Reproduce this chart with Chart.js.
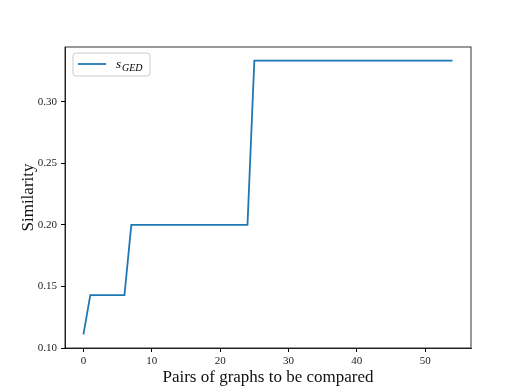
<!DOCTYPE html>
<html>
<head>
    <meta charset="UTF-8">
    <script src="https://cdn.jsdelivr.net/npm/chart.js"></script>
    <style>
        body { margin: 0; background: #fff; }
    </style>
</head>
<body>
    <canvas id="simChart" width="523" height="392"></canvas>
    <script>
        // break points of the step curve (pair index, similarity)
        const pairIdx = [0, 1, 6, 7, 24, 25, 54];
        const similarity = [0.1111, 0.1429, 0.1429, 0.2, 0.2, 0.3333, 0.3333];
        const xTicks = [0, 10, 20, 30, 40, 50];
        const yTicks = [0.10, 0.15, 0.20, 0.25, 0.30];
        const seriesName = "s";
        const seriesSub = "GED";

        const serif = "'Liberation Serif', 'DejaVu Serif', serif";

        // matplotlib-ish frame + legend
        const framePlugin = {
            id: 'frame',
            afterDraw(chart) {
                const ctx = chart.ctx, a = chart.chartArea;
                ctx.save();
                ctx.strokeStyle = '#000';
                ctx.lineWidth = 0.8;
                ctx.strokeRect(a.left, a.top, a.right - a.left, a.bottom - a.top);

                // legend box
                const lx = a.left + 8, ly = a.top + 6, lw = 77, lh = 23;
                ctx.strokeStyle = '#ccc';
                ctx.fillStyle = 'rgba(255,255,255,0.8)';
                ctx.lineWidth = 1;
                ctx.beginPath();
                ctx.roundRect(lx, ly, lw, lh, 3);
                ctx.fill();
                ctx.stroke();
                ctx.strokeStyle = '#1f77b4';
                ctx.lineWidth = 1.8;
                ctx.beginPath();
                ctx.moveTo(lx + 5, ly + 11);
                ctx.lineTo(lx + 33, ly + 11);
                ctx.stroke();
                ctx.fillStyle = '#000';
                ctx.textBaseline = 'alphabetic';
                ctx.font = "italic 13px " + serif;
                ctx.fillText(seriesName, lx + 43, ly + 15);
                ctx.font = "italic 10px " + serif;
                ctx.fillText(seriesSub, lx + 49, ly + 18);
                ctx.restore();
            }
        };

        const data = {
            datasets: [{
                label: seriesName + seriesSub,
                data: pairIdx.map((x, i) => ({ x: x, y: similarity[i] })),
                borderColor: '#1f77b4',
                borderWidth: 1.8,
                pointRadius: 0,
                tension: 0,
                fill: false
            }]
        };

        const config = {
            type: 'line',
            data: data,
            options: {
                responsive: false,
                animation: false,
                layout: { padding: { top: 47, right: 52, left: 14, bottom: 0 } },
                plugins: {
                    legend: { display: false },
                    tooltip: { enabled: false }
                },
                scales: {
                    x: {
                        type: 'linear',
                        min: -2.7,
                        max: 56.7,
                        afterBuildTicks: s => { s.ticks = xTicks.map(v => ({ value: v })); },
                        afterFit: s => { s.height = 44; },
                        grid: { drawOnChartArea: false, drawTicks: true, tickLength: 4, color: '#000' },
                        border: { display: true, color: '#000', width: 0.8 },
                        ticks: { color: '#222', font: { family: serif, size: 11 }, padding: 3, maxRotation: 0 },
                        title: { display: true, text: 'Pairs of graphs to be compared', color: '#111', font: { family: serif, size: 17 }, padding: { top: 0 } }
                    },
                    y: {
                        min: 0.1,
                        max: 0.3444,
                        afterBuildTicks: s => { s.ticks = yTicks.map(v => ({ value: v })); },
                        afterFit: s => { s.width = 51; },
                        grid: { drawOnChartArea: false, drawTicks: true, tickLength: 4, color: '#000' },
                        border: { display: true, color: '#000', width: 0.8 },
                        ticks: { color: '#222', font: { family: serif, size: 11 }, padding: 4, callback: v => v.toFixed(2) },
                        title: { display: true, text: 'Similarity', color: '#111', font: { family: serif, size: 17 }, padding: { bottom: 4 } }
                    }
                }
            },
            plugins: [framePlugin]
        };

        new Chart(document.getElementById('simChart'), config);
    </script>
</body>
</html>
